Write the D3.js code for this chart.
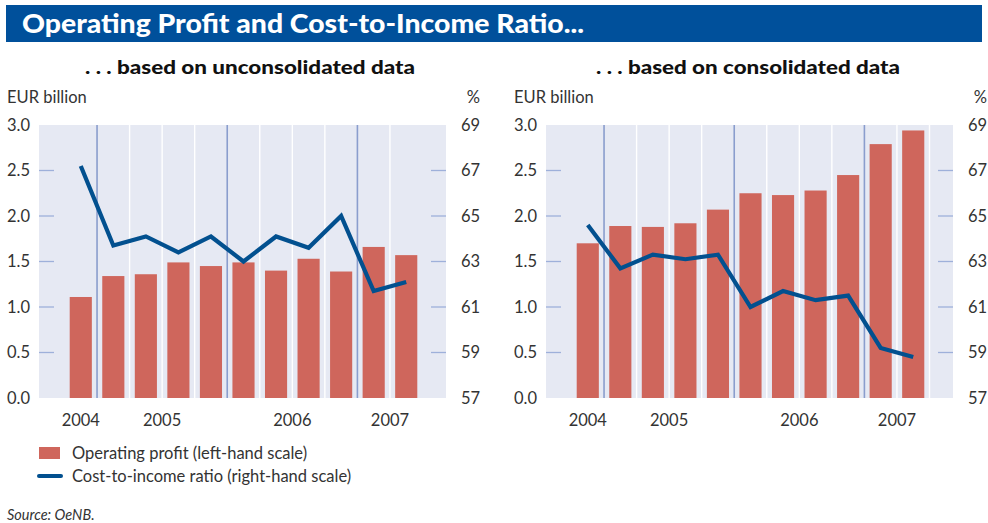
<!DOCTYPE html>
<html>
<head>
    <meta charset="utf-8">
    <title>Operating Profit and Cost-to-Income Ratio</title>
    <script src="https://d3js.org/d3.v7.min.js"></script>
    <style>
        body { margin: 0; background: #fff; }
        svg { font-family: Lato, "Open Sans", sans-serif; }
    </style>
</head>
<body>
<div id="chart"></div>
<script>
// quarters Q4 2004 .. Q2 2007
var periods = ["2004Q4", "2005Q1", "2005Q2", "2005Q3", "2005Q4",
               "2006Q1", "2006Q2", "2006Q3", "2006Q4", "2007Q1", "2007Q2"];
var periodYears = ["2004", "2005", "2005", "2005", "2005",
                   "2006", "2006", "2006", "2006", "2007", "2007"];
var yearLabels = ["2004", "2005", "2006", "2007"];

// EUR billion
var profitUnconsolidated = [1.11, 1.34, 1.36, 1.49, 1.45, 1.49, 1.40, 1.53, 1.39, 1.66, 1.57];
var profitConsolidated   = [1.70, 1.89, 1.88, 1.92, 2.07, 2.25, 2.23, 2.28, 2.45, 2.79, 2.94];
// %
var ratioUnconsolidated = [67.2, 63.7, 64.1, 63.4, 64.1, 63.0, 64.1, 63.6, 65.0, 61.7, 62.1];
var ratioConsolidated   = [64.6, 62.7, 63.3, 63.1, 63.3, 61.0, 61.7, 61.3, 61.5, 59.2, 58.8];

var leftTicks = [0, 0.5, 1.0, 1.5, 2.0, 2.5, 3.0];
var rightTicks = [57, 59, 61, 63, 65, 67, 69];

var W = 988, H = 523;
var plotW = 407, plotH = 273;

var barColor = "#cf665c",
    lineColor = "#02508f",
    bgColor = "#e6e9f3",
    yearLineColor = "#8a9dcd",
    tickColor = "#9eb0da",
    textColor = "#333";

var svg = d3.select("#chart").append("svg")
    .attr("width", W)
    .attr("height", H);

// title bar
svg.append("rect")
    .attr("x", 6).attr("y", 5)
    .attr("width", 976).attr("height", 37)
    .attr("fill", "#00509b");
svg.append("text")
    .attr("x", 22).attr("y", 33)
    .attr("fill", "#fff")
    .attr("font-size", 26)
    .attr("font-weight", 900)
    .attr("textLength", 562)
    .attr("lengthAdjust", "spacingAndGlyphs")
    .text("Operating Profit and Cost-to-Income Ratio...");

function drawPanel(left, subtitle, subCenter, subWidth, profit, ratio, trailingLine) {
    var g = svg.append("g").attr("transform", "translate(" + left + ",125)");

    var x = d3.scaleBand()
        .domain(periods)
        .range([25.5, 383.5])
        .paddingInner(0.32)
        .paddingOuter(0.16);
    var y = d3.scaleLinear().domain([0, 3]).range([plotH, 0]);
    var y2 = d3.scaleLinear().domain([57, 69]).range([plotH, 0]);
    var step = x.step();

    // subtitle + units
    svg.append("text")
        .attr("x", subCenter).attr("y", 74)
        .attr("text-anchor", "middle")
        .attr("font-size", 18.5).attr("font-weight", 900)
        .attr("fill", "#111")
        .attr("textLength", subWidth)
        .attr("lengthAdjust", "spacingAndGlyphs")
        .text(subtitle);
    g.append("text")
        .attr("x", -32).attr("y", -22)
        .attr("font-size", 16.5).attr("fill", textColor)
        .text("EUR billion");
    g.append("text")
        .attr("x", plotW + 34).attr("y", -22)
        .attr("text-anchor", "end")
        .attr("font-size", 16.5).attr("fill", textColor)
        .text("%");

    g.append("rect")
        .attr("width", plotW).attr("height", plotH)
        .attr("fill", bgColor);

    // separators between quarters
    var bounds = [];
    periods.forEach(function(p, i) {
        var bx = x(p) + x.bandwidth() + step * x.paddingInner() / 2;
        if (i < periods.length - 1) {
            bounds.push({ x: bx, year: periodYears[i] !== periodYears[i + 1] });
        } else if (trailingLine) {
            bounds.push({ x: bx, year: false });
        }
    });
    g.selectAll("line.sep")
        .data(bounds)
        .enter().append("line")
        .attr("class", "sep")
        .attr("x1", d => d.x).attr("x2", d => d.x)
        .attr("y1", 0).attr("y2", plotH)
        .attr("stroke", d => d.year ? yearLineColor : "#fff")
        .attr("stroke-width", d => d.year ? 1.6 : 1.4);

    // left axis
    var yAxis = d3.axisLeft(y).tickValues(leftTicks)
        .tickFormat(d3.format(".1f")).tickSize(0).tickPadding(9);
    var ya = g.append("g").call(yAxis);
    ya.select(".domain").remove();
    ya.selectAll("text").attr("font-size", 16.5).attr("fill", textColor)
        .attr("font-family", "Lato, sans-serif");
    g.selectAll("line.ltick")
        .data(leftTicks.slice(1, -1))
        .enter().append("line")
        .attr("x1", 0).attr("x2", 15)
        .attr("y1", d => y(d)).attr("y2", d => y(d))
        .attr("stroke", tickColor).attr("stroke-width", 1.3);

    // right axis
    var y2Axis = d3.axisRight(y2).tickValues(rightTicks)
        .tickSize(0).tickPadding(15);
    var ra = g.append("g").attr("transform", "translate(" + plotW + ",0)").call(y2Axis);
    ra.select(".domain").remove();
    ra.selectAll("text").attr("font-size", 16.5).attr("fill", textColor)
        .attr("font-family", "Lato, sans-serif");
    g.selectAll("line.rtick")
        .data(rightTicks.slice(1, -1))
        .enter().append("line")
        .attr("x1", plotW - 15).attr("x2", plotW)
        .attr("y1", d => y2(d)).attr("y2", d => y2(d))
        .attr("stroke", tickColor).attr("stroke-width", 1.3);

    // bars
    g.selectAll("rect.bar")
        .data(profit)
        .enter().append("rect")
        .attr("class", "bar")
        .attr("x", (d, i) => x(periods[i]))
        .attr("y", d => y(d))
        .attr("width", x.bandwidth())
        .attr("height", d => plotH - y(d))
        .attr("fill", barColor);

    // ratio line
    var line = d3.line()
        .x((d, i) => x(periods[i]) + x.bandwidth() / 2)
        .y(d => y2(d));
    g.append("path")
        .datum(ratio)
        .attr("d", line)
        .attr("fill", "none")
        .attr("stroke", lineColor)
        .attr("stroke-width", 4.2)
        .attr("stroke-linejoin", "miter");

    // year labels
    g.selectAll("text.year")
        .data(yearLabels)
        .enter().append("text")
        .attr("class", "year")
        .attr("x", function(yr) {
            var xs = periods.filter((p, i) => periodYears[i] === yr)
                .map(p => x(p) + x.bandwidth() / 2);
            return d3.mean(xs);
        })
        .attr("y", plotH + 28)
        .attr("text-anchor", "middle")
        .attr("font-size", 16.5).attr("fill", textColor)
        .text(d => d);
}

drawPanel(39, ". . . based on unconsolidated data", 250, 330,
    profitUnconsolidated, ratioUnconsolidated, false);
drawPanel(546, ". . . based on consolidated data", 748, 304,
    profitConsolidated, ratioConsolidated, true);

// legend
svg.append("rect")
    .attr("x", 39).attr("y", 447)
    .attr("width", 21).attr("height", 12)
    .attr("fill", barColor);
svg.append("text")
    .attr("x", 72).attr("y", 459)
    .attr("font-size", 16.5).attr("fill", textColor)
    .text("Operating profit (left-hand scale)");
svg.append("line")
    .attr("x1", 39).attr("x2", 61)
    .attr("y1", 476).attr("y2", 476)
    .attr("stroke", lineColor).attr("stroke-width", 4)
    .attr("stroke-linecap", "round");
svg.append("text")
    .attr("x", 72).attr("y", 482)
    .attr("font-size", 16.5).attr("fill", textColor)
    .text("Cost-to-income ratio (right-hand scale)");

svg.append("text")
    .attr("x", 7).attr("y", 520)
    .attr("font-size", 14.5).attr("font-style", "italic")
    .attr("fill", textColor)
    .text("Source: OeNB.");
</script>
</body>
</html>
